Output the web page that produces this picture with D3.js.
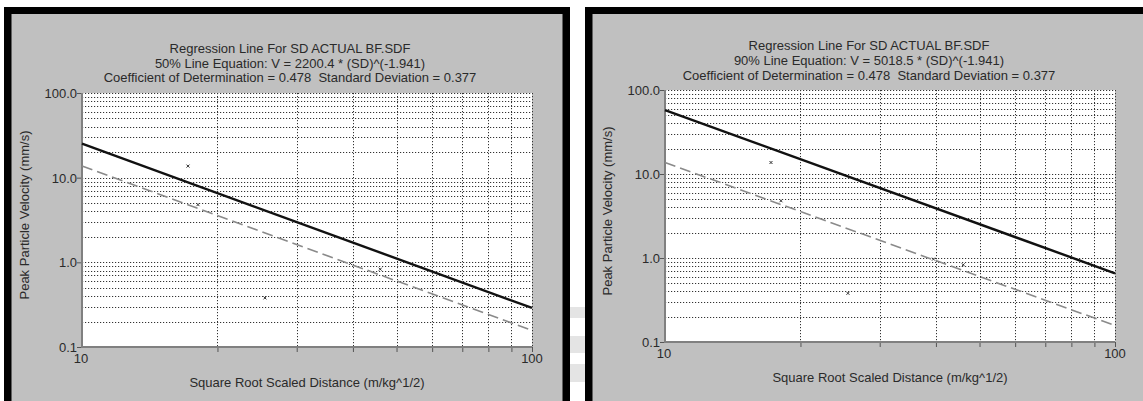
<!DOCTYPE html>
<html><head><meta charset="utf-8">
<script src="https://cdn.jsdelivr.net/npm/d3@7"></script>
<style>
body{margin:0;background:#fff}
svg{display:block}
text{font-family:"Liberation Sans",Arial,sans-serif;fill:#2a2a2a;white-space:pre}
</style>
</head><body>
<svg id="c" width="1143" height="401"></svg>
<script>
// ---- data ----
const xTickValues = [10, 100];
const xTickLabels = ["10", "100"];
const yTickValues = [0.1, 1, 10, 100];
const yTickLabels = ["0.1", "1.0", "10.0", "100.0"];
const pointSD  = [17.2, 18.1, 25.5, 39.5, 46.0];
const pointPPV = [13.7, 4.8, 0.38, 0.97, 0.83];
const lineSD    = [10, 100];
const line50PPV = [25.2, 0.289];
const line90PPV = [57.5, 0.658];
const meanPPV   = [13.7, 0.157];
const titles50 = ["Regression Line For SD ACTUAL BF.SDF",
                  "50% Line Equation: V = 2200.4 * (SD)^(-1.941)",
                  "Coefficient of Determination = 0.478  Standard Deviation = 0.377"];
const titles90 = ["Regression Line For SD ACTUAL BF.SDF",
                  "90% Line Equation: V = 5018.5 * (SD)^(-1.941)",
                  "Coefficient of Determination = 0.478  Standard Deviation = 0.377"];
const xLabel = "Square Root Scaled Distance (m/kg^1/2)";
const yLabel = "Peak Particle Velocity (mm/s)";

const svg = d3.select("#c");

// faint background bands between panels
[[307,318],[336,353],[364,382]].forEach(([a,b]) => {
  svg.append("rect").attr("x",565).attr("y",a).attr("width",25).attr("height",b-a).attr("fill","#e4e4e4");
});

const panels = [
  {frame:{x:4,y:7,w:566,h:420}, plot:{l:82,t:93,r:532,b:347}, tcx:290, tby:[53,67.5,82], titles:titles50, line:line50PPV},
  {frame:{x:585,y:7,w:600,h:420}, plot:{l:665,t:90,r:1115,b:342}, tcx:869, tby:[49.5,64.5,79.5], titles:titles90, line:line90PPV}
];

panels.forEach(p => {
  const g = svg.append("g");
  const f = p.frame;
  g.append("rect").attr("x",f.x).attr("y",f.y).attr("width",f.w).attr("height",f.h).attr("fill","#000");
  g.append("rect").attr("x",f.x+7.5).attr("y",f.y+7).attr("width",f.w-15).attr("height",f.h-14).attr("fill","#c0c0c0");
  const P = p.plot;
  g.append("rect").attr("x",P.l).attr("y",P.t).attr("width",P.r-P.l).attr("height",P.b-P.t).attr("fill","#fff");

  const x = d3.scaleLog().domain([10,100]).range([P.l,P.r]);
  const y = d3.scaleLog().domain([0.1,100]).range([P.b,P.t]);

  // grid
  const xGrid = x.ticks(10).filter(v => v > 10);
  const yGrid = y.ticks(40).filter(v => v > 0.1);
  g.selectAll(".hg").data(yGrid).join("line")
    .attr("x1",P.l).attr("x2",P.r).attr("y1",d=>Math.round(y(d))+0.5).attr("y2",d=>Math.round(y(d))+0.5)
    .attr("stroke","#333").attr("stroke-width",1).attr("stroke-dasharray","1.2,1.8");
  g.selectAll(".vg").data(xGrid).join("line")
    .attr("y1",P.t).attr("y2",P.b).attr("x1",d=>Math.round(x(d))+0.5).attr("x2",d=>Math.round(x(d))+0.5)
    .attr("stroke","#333").attr("stroke-width",1).attr("stroke-dasharray","1.2,1.8");

  // axes via d3
  const xAxis = d3.axisBottom(x).tickValues(xGrid).tickSize(5).tickFormat("");
  const xa = g.append("g").attr("transform",`translate(0,${P.b})`).call(xAxis);
  xa.select(".domain").remove();
  xa.selectAll("line").attr("stroke","#555");
  const yAxis = d3.axisLeft(y).tickValues(yTickValues).tickSize(5).tickFormat((d,i)=>yTickLabels[i]);
  const ya = g.append("g").attr("transform",`translate(${P.l},0)`).call(yAxis);
  ya.select(".domain").remove();
  ya.selectAll("line").attr("stroke","#555");
  ya.selectAll("text").attr("font-size",13).attr("x",-5).attr("dy","0.35em")
    .style("font-family","Liberation Sans, Arial, sans-serif").attr("fill","#2a2a2a");

  // axis lines
  g.append("line").attr("x1",P.l).attr("x2",P.l).attr("y1",P.t).attr("y2",P.b+1).attr("stroke","#808080").attr("stroke-width",2);
  g.append("line").attr("x1",P.l-1).attr("x2",P.r).attr("y1",P.b).attr("y2",P.b).attr("stroke","#808080").attr("stroke-width",2);

  // x tick labels
  g.selectAll(".xl").data(xTickValues).join("text")
    .attr("x",(d,i)=>x(d) + (i===0?-1:0)).attr("y",P.b+16).attr("text-anchor","middle").attr("font-size",13)
    .text((d,i)=>xTickLabels[i]);

  // lines
  const lg = d3.line().x(d=>x(d[0])).y(d=>y(d[1]));
  g.append("path").attr("d",lg(lineSD.map((s,i)=>[s,meanPPV[i]]))).attr("fill","none")
    .attr("stroke","#8a8a8a").attr("stroke-width",1.6).attr("stroke-dasharray","11,5");
  g.append("path").attr("d",lg(lineSD.map((s,i)=>[s,p.line[i]]))).attr("fill","none")
    .attr("stroke","#111").attr("stroke-width",2.4);

  // points
  pointSD.forEach((s,i) => {
    const cx = x(s), cy = y(pointPPV[i]);
    g.append("path").attr("d",`M${cx-1.5},${cy-1.5}L${cx+1.5},${cy+1.5}M${cx+1.5},${cy-1.5}L${cx-1.5},${cy+1.5}`)
      .attr("stroke","#333").attr("stroke-width",1);
  });

  // titles
  p.titles.forEach((t,i) => {
    g.append("text").attr("x",p.tcx).attr("y",p.tby[i]).attr("text-anchor","middle").attr("font-size",13).text(t);
  });
  g.append("text").attr("x",(P.l+P.r)/2).attr("y",P.b+40).attr("text-anchor","middle").attr("font-size",13).text(xLabel);
  g.append("text").attr("transform",`translate(${P.l-53},${(P.t+P.b)/2-5}) rotate(-90)`)
    .attr("text-anchor","middle").attr("font-size",13).text(yLabel);
});
</script>
</body></html>
